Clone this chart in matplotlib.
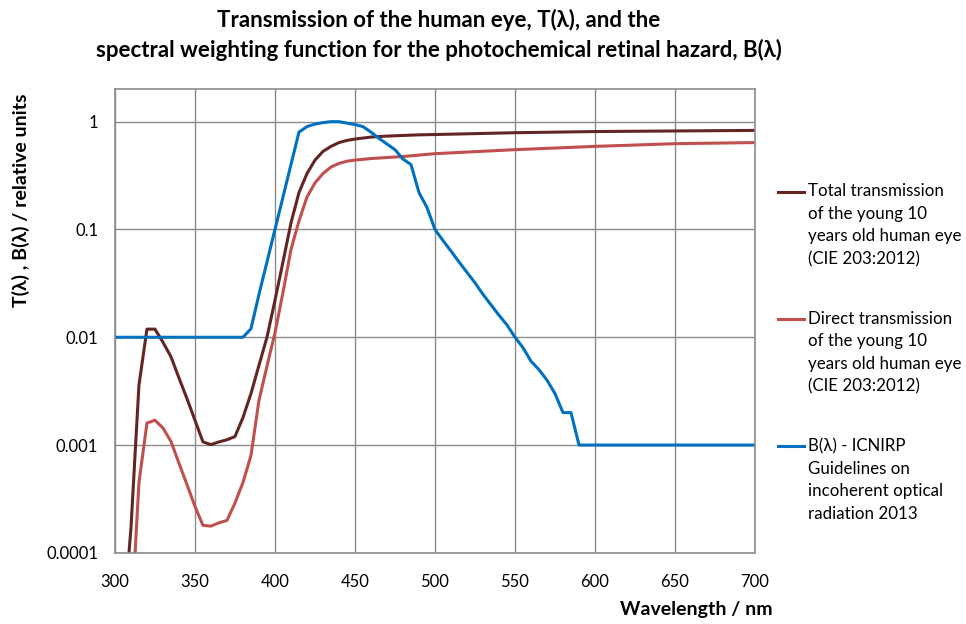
import matplotlib.pyplot as plt
from matplotlib.lines import Line2D
import numpy as np

# wavelength grid (nm) for the two transmission curves
wl_t = [305, 310, 315, 320, 325, 330, 335, 340, 345, 350, 355, 360, 365, 370, 375,
        380, 385, 390, 395, 400, 405, 410, 415, 420, 425, 430, 435, 440, 445, 450,
        460, 470, 480, 490, 500, 550, 600, 650, 700]
total_t = [0.00002, 0.00017, 0.0036, 0.0119, 0.0119, 0.009, 0.0066, 0.0042, 0.0027, 0.0017,
           0.00107, 0.00101, 0.00107, 0.00112, 0.0012,
           0.0018, 0.003, 0.0055, 0.01, 0.022, 0.05, 0.115, 0.22, 0.33, 0.44, 0.53, 0.59,
           0.64, 0.67, 0.69, 0.72, 0.735, 0.745, 0.755, 0.76, 0.79, 0.81, 0.82, 0.83]
direct_t = [0.000001, 0.00002, 0.00045, 0.0016, 0.0017, 0.00144, 0.00108, 0.00068, 0.00043,
            0.00027, 0.00018, 0.000177, 0.00019, 0.0002, 0.00029,
            0.00045, 0.0008, 0.0026, 0.0054, 0.011, 0.026, 0.065, 0.12, 0.2, 0.27, 0.33,
            0.38, 0.41, 0.43, 0.44, 0.455, 0.465, 0.475, 0.49, 0.505, 0.55, 0.59, 0.625, 0.64]

# ICNIRP blue-light hazard function
wl_b = [300, 380, 385, 390, 395, 400, 405, 410, 415, 420, 425, 430, 435, 440, 445, 450,
        455, 460, 465, 470, 475, 480, 485, 490, 495, 500, 505, 510, 515, 520, 525, 530,
        535, 540, 545, 550, 555, 560, 565, 570, 575, 580, 585, 590, 595, 600, 700]
b_haz = [0.01, 0.01, 0.012, 0.025, 0.05, 0.10, 0.20, 0.40, 0.80, 0.90, 0.95, 0.98, 1.0,
         1.0, 0.97, 0.94, 0.90, 0.80, 0.70, 0.62, 0.55, 0.45, 0.40, 0.22, 0.16, 0.10,
         0.079, 0.063, 0.050, 0.040, 0.032, 0.025, 0.020, 0.016, 0.013, 0.010, 0.008,
         0.006, 0.005, 0.004, 0.003, 0.002, 0.002, 0.001, 0.001, 0.001, 0.001]

labels = ["Total transmission\nof the young 10\nyears old human eye\n(CIE 203:2012)",
          "Direct transmission\nof the young 10\nyears old human eye\n(CIE 203:2012)",
          "B(\u03bb) - ICNIRP\nGuidelines on\nincoherent optical\nradiation 2013"]
colors = ["#632523", "#C0504D", "#0070C0"]

plt.rcParams['font.family'] = ['Lato', 'DejaVu Sans']

fig = plt.figure(figsize=(9.66, 6.24), dpi=100)
ax = fig.add_axes([0.119, 0.114, 0.6626, 0.743])

ax.plot(wl_t, total_t, color=colors[0], lw=2.2)
ax.plot(wl_t, direct_t, color=colors[1], lw=2.2)
ax.plot(wl_b, b_haz, color=colors[2], lw=2.2)

ax.set_yscale('log')
ax.set_xlim(300, 700)
ax.set_ylim(0.0001, 2)
ax.set_xticks(np.arange(300, 701, 50))
ax.set_yticks([0.0001, 0.001, 0.01, 0.1, 1])
ax.set_yticklabels(["0.0001", "0.001", "0.01", "0.1", "1"])
ax.yaxis.set_minor_locator(plt.NullLocator())
ax.tick_params(labelsize=12, length=0)
ax.tick_params(axis='x', pad=15)
ax.tick_params(axis='y', pad=12)
ax.grid(True, color="#8c8c8c", lw=1)
for s in ax.spines.values():
    s.set_color("#8c8c8c")
    s.set_linewidth(1.2)

ax.set_xlabel("Wavelength / nm", fontsize=14, fontweight='bold', va='center')
ax.xaxis.set_label_coords(0.909, -0.123)
ax.set_ylabel("T(\u03bb) , B(\u03bb) / relative units", fontsize=14, fontweight='bold',
              va='center')
ax.yaxis.set_label_coords(-0.147, 0.76)

fig.text(0.454, 0.968, "Transmission of the human eye, T(\u03bb), and the",
         ha='center', va='center', fontsize=16, fontweight='bold')
fig.text(0.454, 0.92, "spectral weighting function for the photochemical retinal hazard, B(\u03bb)",
         ha='center', va='center', fontsize=16, fontweight='bold')

# legend drawn by hand so each handle sits on the first text line
H = 624.0
for i, (lab, c) in enumerate(zip(labels, colors)):
    yc = [191.5, 318.5, 446.0][i]
    fig.add_artist(Line2D([778 / 966, 804 / 966], [1 - yc / H] * 2, color=c, lw=2.2))
    fig.text(808 / 966, 1 - (yc - 8) / H, lab, ha='left', va='top',
             fontsize=12.2, linespacing=1.5)

fig.savefig("out.png", dpi=100)
